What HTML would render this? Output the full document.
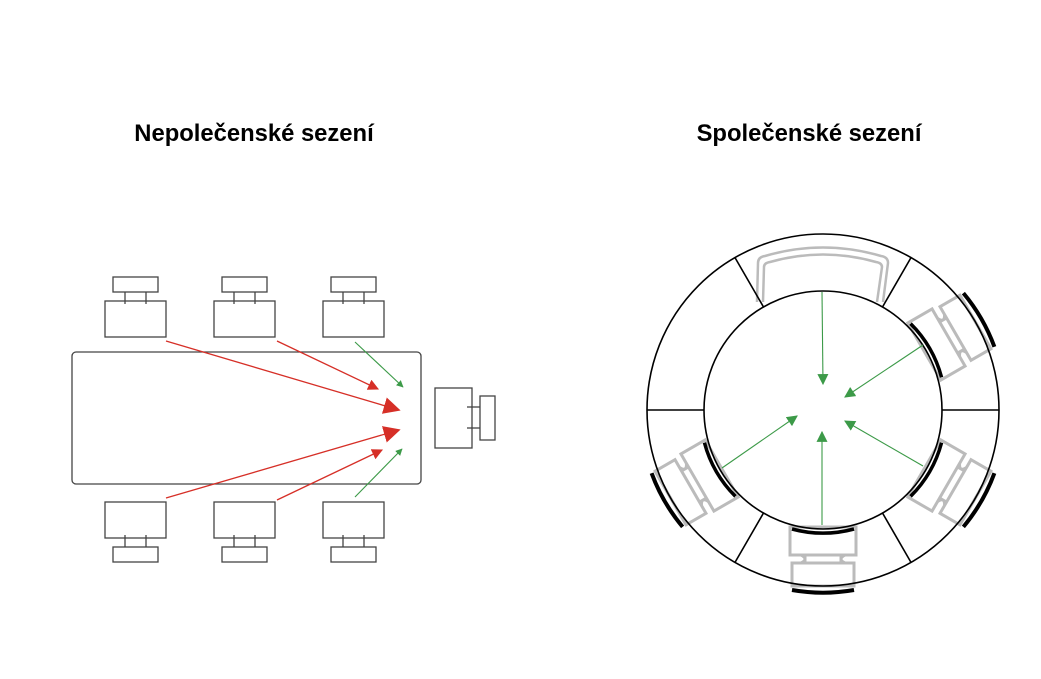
<!DOCTYPE html>
<html><head><meta charset="utf-8"><style>
body{margin:0;background:#fff;width:1041px;height:679px;overflow:hidden}
svg{display:block}
text{font-family:"Liberation Sans",sans-serif;font-weight:bold;font-size:23.8px;fill:#000}
</style></head><body>
<svg width="1041" height="679" viewBox="0 0 1041 679">
<defs>
<marker id="rbig" viewBox="0 0 10 10" refX="9" refY="5" markerWidth="17" markerHeight="17" orient="auto" markerUnits="userSpaceOnUse"><path d="M0,0L10,5L0,10z" fill="#d62f27"/></marker>
<marker id="rmid" viewBox="0 0 10 10" refX="9" refY="5" markerWidth="11" markerHeight="11" orient="auto" markerUnits="userSpaceOnUse"><path d="M0,0L10,5L0,10z" fill="#d62f27"/></marker>
<marker id="gs" viewBox="0 0 10 10" refX="9" refY="5" markerWidth="7" markerHeight="7" orient="auto" markerUnits="userSpaceOnUse"><path d="M0,0L10,5L0,10z" fill="#3c9a48"/></marker>
<marker id="gm" viewBox="0 0 10 10" refX="9" refY="5" markerWidth="11" markerHeight="11" orient="auto" markerUnits="userSpaceOnUse"><path d="M0,0L10,5L0,10z" fill="#3c9a48"/></marker>
<g id="chairTop" fill="none" stroke="#444" stroke-width="1.3">
<rect x="0" y="24" width="61" height="36"/><rect x="8" y="0" width="45" height="15"/>
<line x1="20" y1="15" x2="20" y2="27"/><line x1="41" y1="15" x2="41" y2="27"/>
</g>
<g id="chairBot" fill="none" stroke="#444" stroke-width="1.3">
<rect x="0" y="0" width="61" height="36"/><rect x="8" y="45" width="45" height="15"/>
<line x1="20" y1="33" x2="20" y2="45"/><line x1="41" y1="33" x2="41" y2="45"/>
</g>
<g id="chairR">
<g fill="none" stroke="#bbb" stroke-width="3">
<rect x="-33" y="117" width="66" height="28"/>
<rect x="-31" y="153" width="62" height="23"/>
<path d="M-22,145 Q-14,149 -22,153 M22,145 Q14,149 22,153 M-18,145 L-18,153 M18,145 L18,153"/>
</g>
<path d="M-31,118 A119,119 0 0 0 31,118" fill="none" stroke="#000" stroke-width="3.5" transform="translate(0,1)"/>
<path d="M-31,178 A180,180 0 0 0 31,178" fill="none" stroke="#000" stroke-width="4" transform="translate(0,2)"/>
</g>
</defs>
<text x="254" y="141" text-anchor="middle">Nepolečenské sezení</text>
<text x="809" y="141" text-anchor="middle">Společenské sezení</text>
<rect x="72" y="352" width="349" height="132" rx="4" fill="none" stroke="#444" stroke-width="1.3"/>
<use href="#chairTop" x="105" y="277"/><use href="#chairTop" x="214" y="277"/><use href="#chairTop" x="323" y="277"/>
<use href="#chairBot" x="105" y="502"/><use href="#chairBot" x="214" y="502"/><use href="#chairBot" x="323" y="502"/>
<g fill="none" stroke="#444" stroke-width="1.3">
<rect x="435" y="388" width="37" height="60"/><rect x="480" y="396" width="15" height="44"/>
<line x1="467" y1="407" x2="480" y2="407"/><line x1="467" y1="428" x2="480" y2="428"/>
</g>
<g stroke="#d62f27" stroke-width="1.3">
<line x1="166" y1="341" x2="399" y2="410" marker-end="url(#rbig)"/>
<line x1="277" y1="341" x2="378" y2="389" marker-end="url(#rmid)"/>
<line x1="166" y1="498" x2="399" y2="430" marker-end="url(#rbig)"/>
<line x1="277" y1="500" x2="382" y2="450" marker-end="url(#rmid)"/>
</g>
<g stroke="#3c9a48" stroke-width="1.1">
<line x1="355" y1="342" x2="403" y2="387" marker-end="url(#gs)"/>
<line x1="355" y1="497" x2="402" y2="449" marker-end="url(#gs)"/>
</g>
<g transform="translate(823,410)">
<path d="M-66,-108 L-65,-147 Q-65,-153 -58,-154 Q0,-171 58,-154 Q65,-153 65,-147 L60,-108 M-60,-108 L-59,-143 Q-59,-147 -53,-148 Q0,-163 53,-148 Q59,-147 59,-143 L54,-108" fill="none" stroke="#bbb" stroke-width="2.5"/>
<use href="#chairR"/>
<use href="#chairR" transform="rotate(60)"/>
<use href="#chairR" transform="rotate(-60)"/>
<use href="#chairR" transform="rotate(-120)"/>
<circle r="176" fill="none" stroke="#000" stroke-width="1.6"/>
<circle r="119" fill="none" stroke="#000" stroke-width="1.6"/>
<g stroke="#000" stroke-width="1.6">
<line x1="119" y1="0" x2="176" y2="0"/><line x1="-119" y1="0" x2="-176" y2="0"/>
<line x1="59.5" y1="103" x2="88" y2="152.4"/><line x1="-59.5" y1="103" x2="-88" y2="152.4"/>
<line x1="59.5" y1="-103" x2="88" y2="-152.4"/><line x1="-59.5" y1="-103" x2="-88" y2="-152.4"/>
</g>
<g stroke="#3c9a48" stroke-width="1.1">
<line x1="-1" y1="-118" x2="0" y2="-26" marker-end="url(#gm)"/>
<line x1="100" y1="-65" x2="22" y2="-13" marker-end="url(#gm)"/>
<line x1="-101" y1="58" x2="-26" y2="6" marker-end="url(#gm)"/>
<line x1="100" y1="56" x2="22" y2="11" marker-end="url(#gm)"/>
<line x1="-1" y1="115" x2="-1" y2="22" marker-end="url(#gm)"/>
</g>
</g>
</svg>
</body></html>
